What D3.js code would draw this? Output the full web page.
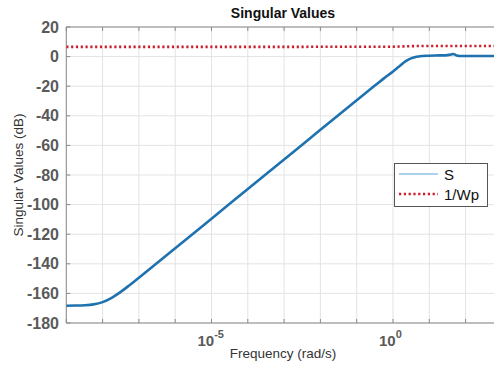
<!DOCTYPE html>
<html><head><meta charset="utf-8">
<script src="https://cdn.jsdelivr.net/npm/d3@7"></script>
<style>body{margin:0;background:#fff}svg{display:block}</style>
</head><body><svg id="c" width="494" height="365"></svg>
<script>
// Data (log10 of frequency in rad/s, singular values in dB)
const sLogFreq = [-9, -8.75, -8.5, -8.25, -8, -7.75, -7.5, -7.25, -7, -6, -5, -4, -3, -2, -1, -0.5, -0.25, 0, 0.15, 0.3, 0.4, 0.5, 0.6, 0.7, 0.8, 1.0, 1.3, 1.5, 1.6, 1.66, 1.75, 1.9, 2.5, 3];
const sValues  = [-168.3, -168.2, -168.0, -167.4, -165.9, -163.0, -159.0, -154.3, -149.4, -129.5, -109.5, -89.5, -69.5, -49.5, -29.5, -19.6, -14.7, -10.0, -7.0, -4.0, -2.4, -1.2, -0.4, 0.1, 0.4, 0.6, 0.8, 1.0, 1.4, 1.8, 0.8, 0.4, 0.4, 0.4];
const wpLogFreq = [-9, -3, 0, 0.3, 0.6, 1, 2, 3];
const wpValues  = [6.6, 6.6, 6.7, 6.9, 7.1, 7.2, 7.2, 7.2];
const yTicks = [20, 0, -20, -40, -60, -80, -100, -120, -140, -160, -180];
const xTickExps = [-9, -8, -7, -6, -5, -4, -3, -2, -1, 0, 1, 2, 3];
const xLabelExps = [-5, 0];
const seriesNames = ["S", "1/Wp"];

const svg = d3.select("#c");
const L = 66.3, R = 501.9, T = 27, B = 323;
const x = d3.scaleLog().domain([1e-9, 1e3]).range([L, R]);
const y = d3.scaleLinear().domain([-180, 20]).range([B, T]);
const font = "'Liberation Sans', Arial, sans-serif";

// grid
const g = svg.append("g");
g.selectAll("line.vx").data(xTickExps).enter().append("line")
  .attr("x1", d => x(Math.pow(10, d))).attr("x2", d => x(Math.pow(10, d)))
  .attr("y1", T).attr("y2", B).attr("stroke", "#e3e3e3").attr("stroke-width", 1);
g.selectAll("line.hy").data(yTicks).enter().append("line")
  .attr("x1", L).attr("x2", R).attr("y1", d => y(d)).attr("y2", d => y(d))
  .attr("stroke", "#e3e3e3").attr("stroke-width", 1);

// box
svg.append("line").attr("x1", L).attr("x2", R).attr("y1", T).attr("y2", T).attr("stroke", "#8a8a8a");
svg.append("line").attr("x1", L).attr("x2", R).attr("y1", B).attr("y2", B).attr("stroke", "#8a8a8a");
svg.append("line").attr("x1", L).attr("x2", L).attr("y1", T).attr("y2", B).attr("stroke", "#8a8a8a");

// ticks inward
xTickExps.forEach(d => {
  const xx = x(Math.pow(10, d));
  svg.append("line").attr("x1", xx).attr("x2", xx).attr("y1", B).attr("y2", B - 4).attr("stroke", "#8a8a8a");
  svg.append("line").attr("x1", xx).attr("x2", xx).attr("y1", T).attr("y2", T + 4).attr("stroke", "#8a8a8a");
});
yTicks.forEach(d => {
  svg.append("line").attr("x1", L).attr("x2", L + 4).attr("y1", y(d)).attr("y2", y(d)).attr("stroke", "#8a8a8a");
});

// y tick labels
svg.selectAll("text.yt").data(yTicks).enter().append("text")
  .attr("x", 59).attr("y", d => y(d) + 5.5).attr("text-anchor", "end")
  .attr("font-family", font).attr("font-size", 16).attr("font-weight", "bold")
  .attr("fill", "#5a5a5a").text(d => d);

// x tick labels
xLabelExps.forEach(e => {
  const t = svg.append("text").attr("x", x(Math.pow(10, e)) - 14).attr("y", 346)
    .attr("font-family", font).attr("font-size", 15).attr("font-weight", "bold").attr("fill", "#5a5a5a");
  t.append("tspan").text("10");
  t.append("tspan").attr("dy", -8).attr("font-size", 11).text(e);
});

// lines
const clip = svg.append("clipPath").attr("id", "cp").append("rect")
  .attr("x", L).attr("y", T).attr("width", R - L).attr("height", B - T);
const line = d3.line().x(d => x(Math.pow(10, d[0]))).y(d => y(d[1])).curve(d3.curveMonotoneX);
svg.append("path").datum(sLogFreq.map((f, i) => [f, sValues[i]]))
  .attr("d", line).attr("fill", "none").attr("stroke", "#1f72b0").attr("stroke-width", 2.6)
  .attr("clip-path", "url(#cp)");
svg.append("path").datum(wpLogFreq.map((f, i) => [f, wpValues[i]]))
  .attr("d", line).attr("fill", "none").attr("stroke", "#cc1f2b").attr("stroke-width", 2.6)
  .attr("stroke-dasharray", "2.2,2.6").attr("clip-path", "url(#cp)");

// title & labels
svg.append("text").attr("x", 283).attr("y", 18).attr("text-anchor", "middle")
  .attr("font-family", font).attr("font-size", 14).attr("font-weight", "bold").attr("fill", "#111").text("Singular Values");
svg.append("text").attr("x", 283).attr("y", 358).attr("text-anchor", "middle")
  .attr("font-family", font).attr("font-size", 13.5).attr("fill", "#333").text("Frequency (rad/s)");
svg.append("text").attr("transform", "translate(23,175) rotate(-90)").attr("text-anchor", "middle")
  .attr("font-family", font).attr("font-size", 13.5).attr("fill", "#333").text("Singular Values (dB)");

// legend
const lg = svg.append("g");
lg.append("rect").attr("x", 394.5).attr("y", 163.5).attr("width", 93).attr("height", 43)
  .attr("fill", "#fff").attr("stroke", "#555");
lg.append("line").attr("x1", 399).attr("x2", 438).attr("y1", 174).attr("y2", 174)
  .attr("stroke", "#5aa5d8").attr("stroke-width", 1.2);
lg.append("line").attr("x1", 399).attr("x2", 438).attr("y1", 194).attr("y2", 194)
  .attr("stroke", "#cc1f2b").attr("stroke-width", 2.6).attr("stroke-dasharray", "2.2,2.6");
lg.selectAll("text").data(seriesNames).enter().append("text")
  .attr("x", 444).attr("y", (d, i) => 180 + i * 20)
  .attr("font-family", font).attr("font-size", 15).attr("fill", "#111").text(d => d);
</script></body></html>
